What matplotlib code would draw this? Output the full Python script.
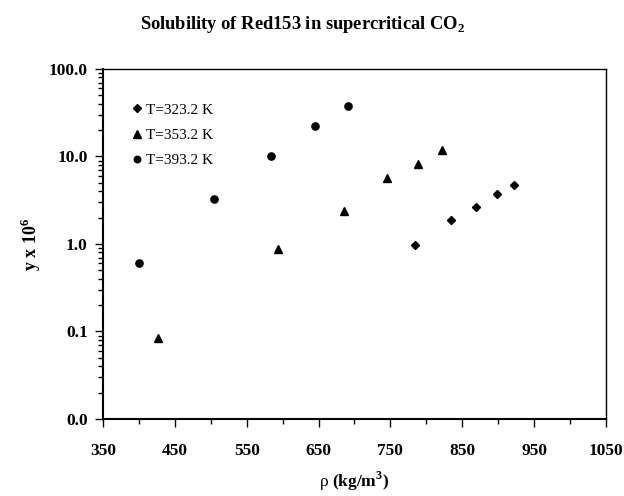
import numpy as np
import matplotlib.pyplot as plt
from matplotlib.ticker import FixedLocator, FuncFormatter, LogLocator, NullFormatter

plt.rcParams['font.family'] = ['Liberation Serif', 'DejaVu Serif']
plt.rcParams['mathtext.fontset'] = 'custom'
plt.rcParams['mathtext.rm'] = 'Liberation Serif'
plt.rcParams['mathtext.bf'] = 'Liberation Serif:bold'

# data
rho_323 = [784, 834, 869, 898, 922]
y_323 = [0.98, 1.87, 2.65, 3.73, 4.69]

rho_353 = [427, 594, 686, 745, 788, 822]
y_353 = [0.085, 0.87, 2.38, 5.63, 8.2, 11.8]

rho_393 = [400, 505, 584, 645, 691]
y_393 = [0.61, 3.24, 10.1, 22.5, 37.5]

fig = plt.figure(figsize=(6.24, 4.96), dpi=100)
ax = fig.add_axes([103/624, 1 - 419/496, 503/624, 350/496])

ax.plot(rho_323, y_323, 'D', color='black', markersize=4.5, linestyle='none', label='T=323.2 K')
ax.plot(rho_353, y_353, '^', color='black', markersize=6, linestyle='none', label='T=353.2 K')
ax.plot(rho_393, y_393, 'o', color='black', markersize=5.2, linestyle='none', label='T=393.2 K')

ax.set_yscale('log')
ax.set_ylim(0.01, 100)
ax.set_xlim(350, 1050)

ax.xaxis.set_major_locator(FixedLocator(np.arange(350, 1051, 100)))
ax.xaxis.set_minor_locator(FixedLocator(np.arange(400, 1050, 100)))
ax.yaxis.set_major_locator(FixedLocator([0.01, 0.1, 1, 10, 100]))
ax.yaxis.set_major_formatter(FuncFormatter(lambda v, p: '%.1f' % v))
ax.yaxis.set_minor_locator(LogLocator(base=10, subs=np.arange(2, 10)))
ax.yaxis.set_minor_formatter(NullFormatter())

ax.tick_params(which='major', length=6, width=1, labelsize=12.5, direction='out')
ax.tick_params(which='minor', length=3.5, width=1, direction='out')
ax.tick_params(axis='x', pad=11)
ax.tick_params(axis='y', pad=5)
for lbl in ax.get_xticklabels() + ax.get_yticklabels():
    lbl.set_fontweight('bold')

for s in ax.spines.values():
    s.set_linewidth(1.0)
ax.spines['left'].set_linewidth(1.5)
ax.spines['bottom'].set_linewidth(1.5)

ax.set_xlabel('$\\mathrm{\\rho}$ (kg/m$^{\\mathbf{3}}$)', fontsize=12.5, fontweight='bold', labelpad=8)
ax.set_ylabel('y x 10$^{\\mathbf{6}}$', fontsize=13, fontweight='bold', labelpad=4)
fig.suptitle('Solubility of Red153 in supercritical CO$_{\\mathbf{2}}$', x=303/624, y=1 - 14/496,
             fontsize=13.3, fontweight='bold')

ax.legend(loc='upper left', bbox_to_anchor=(0.041, 0.92), frameon=False, fontsize=11,
          handletextpad=0.05, handlelength=1.0, labelspacing=0.75, borderaxespad=0,
          markerscale=0.9)

fig.savefig('out.png', dpi=100)
